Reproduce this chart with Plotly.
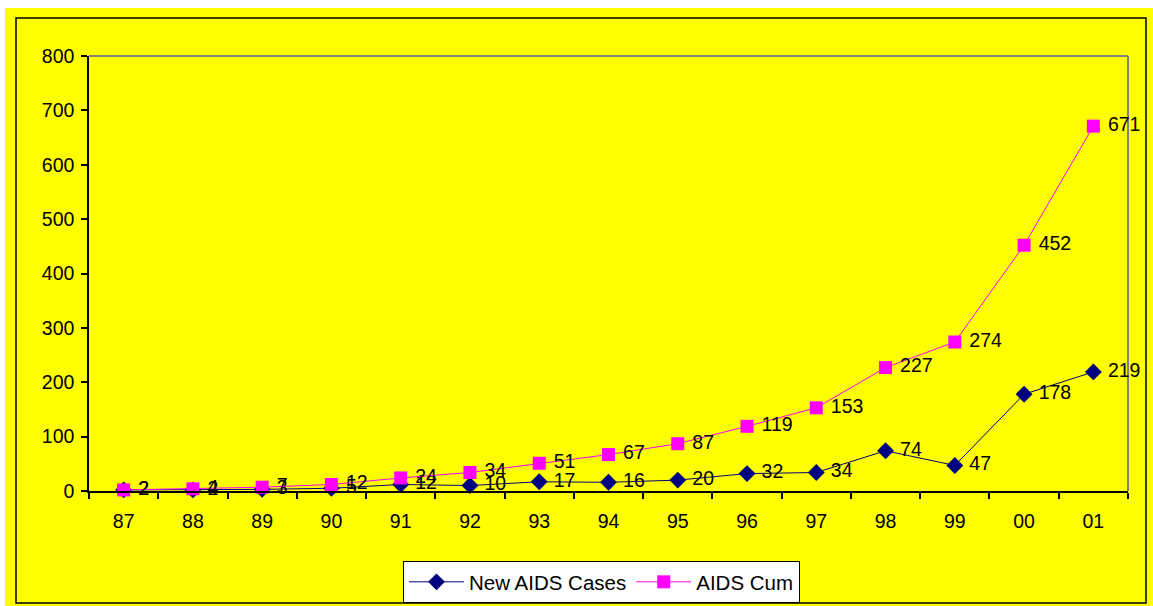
import plotly.graph_objects as go

years = ["87", "88", "89", "90", "91", "92", "93", "94", "95", "96", "97", "98", "99", "00", "01"]
new_cases = [2, 2, 3, 5, 12, 10, 17, 16, 20, 32, 34, 74, 47, 178, 219]
cum_cases = [2, 4, 7, 12, 24, 34, 51, 67, 87, 119, 153, 227, 274, 452, 671]

W, H = 1153, 606
L, R, T, B = 89, 25, 56, 115
pw, ph = W - L - R, H - T - B

def px(x):
    return (x - L) / pw

def py(y):
    return (H - B - y) / ph

font = "Arial, Liberation Sans, sans-serif"
FS = 19.5

fig = go.Figure()
fig.add_trace(go.Scatter(
    x=years, y=new_cases, name="New AIDS Cases", mode="lines+markers+text",
    text=[" " + str(v) for v in new_cases], textposition="middle right",
    textfont=dict(family=font, size=FS, color="black"),
    line=dict(color="#000080", width=1),
    marker=dict(symbol="diamond", size=13, color="#000080"),
    cliponaxis=False,
))
fig.add_trace(go.Scatter(
    x=years, y=cum_cases, name="AIDS Cum", mode="lines+markers+text",
    text=[" " + str(v) for v in cum_cases], textposition="middle right",
    textfont=dict(family=font, size=FS, color="black"),
    line=dict(color="#FF00FF", width=1),
    marker=dict(symbol="square", size=13, color="#FF00FF"),
    cliponaxis=False,
))

shapes = [
    dict(type="rect", xref="paper", yref="paper", x0=px(5), x1=px(1153), y0=py(606), y1=py(8),
         fillcolor="#FFFF00", line=dict(width=0), layer="below"),
    dict(type="rect", xref="paper", yref="paper", x0=px(16), x1=px(1146), y0=py(603), y1=py(18),
         fillcolor="rgba(0,0,0,0)", line=dict(color="black", width=1.5), layer="below"),
    dict(type="line", xref="paper", yref="paper", x0=0, x1=1, y0=1, y1=1,
         line=dict(color="#808080", width=2), layer="below"),
    dict(type="line", xref="paper", yref="paper", x0=1, x1=1, y0=0, y1=1,
         line=dict(color="#808080", width=2), layer="below"),
]

fig.update_layout(
    width=W, height=H,
    margin=dict(l=L, r=R, t=T, b=B, autoexpand=False),
    paper_bgcolor="white", plot_bgcolor="rgba(0,0,0,0)",
    font=dict(family=font, size=FS, color="black"),
    shapes=shapes,
    showlegend=True,
    legend=dict(orientation="h", x=px(403), xanchor="left", y=py(561), yanchor="top",
                bgcolor="white", bordercolor="black", borderwidth=1,
                font=dict(family=font, size=20.5, color="black"),
                itemwidth=55),
    xaxis=dict(type="category", range=[-0.5, 14.5], showgrid=False, showline=True,
               linecolor="black", linewidth=1.5, ticks="outside", ticklen=6, tickwidth=1.5,
               tickcolor="black", tickson="boundaries", zeroline=False,
               ticklabelstandoff=12, tickfont=dict(family=font, size=FS)),
    yaxis=dict(range=[0, 800], dtick=100, showgrid=False, showline=True, linecolor="black",
               linewidth=1.5, ticks="outside", ticklen=6, tickwidth=1.5, tickcolor="black",
               zeroline=False, ticklabelstandoff=3, tickfont=dict(family=font, size=FS)),
)

fig.write_html("out.html")
